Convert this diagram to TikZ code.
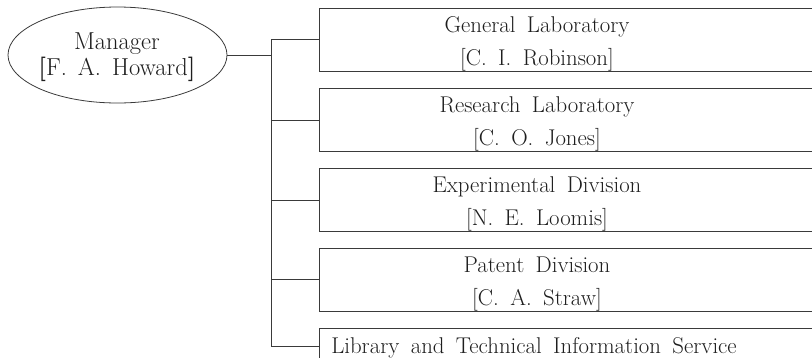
\documentclass[tikz,border=0pt]{standalone}
\usetikzlibrary{shapes.geometric}
\definecolor{linec}{HTML}{3A3A3A}
\definecolor{textc}{HTML}{1E1E1E}
\newcommand\myboxfont{\fontsize{22.8}{27}\selectfont\spaceskip=0.5em plus 0.1em minus 0.1em\relax}
\newcommand\mybossfont{\fontsize{24.5}{29}\selectfont\spaceskip=0.45em plus 0.1em minus 0.1em\relax}
\begin{document}
\begin{tikzpicture}[x=1pt,y=-1pt,
  unitbox/.style={draw=linec, line width=0.8pt, rectangle, anchor=north west,
    minimum width=540pt, minimum height=63pt, inner sep=0pt},
  boss/.style={draw=linec, line width=0.8pt, ellipse, minimum width=219pt,
    minimum height=96pt, inner sep=0pt},
  txt/.style={anchor=base, inner sep=0pt, text=textc, font=\myboxfont},
  bosstxt/.style={anchor=base, inner sep=0pt, text=textc, font=\mybossfont},
  conn/.style={draw=linec, line width=0.8pt}]
\useasboundingbox (0,0) rectangle (812,357);

\node[boss] (m) at (117.5,55) {};
\node[bosstxt] (m1) at (117,49) {Manager};
\node[bosstxt] (m2) at (117,75) {\textbf{[}F. A. Howard\textbf{]}};

\node[unitbox] (b1) at (319,8) {};
\node[unitbox] (b2) at (319,88) {};
\node[unitbox] (b3) at (319,168) {};
\node[unitbox] (b4) at (319,248) {};
\node[unitbox] (b5) at (319,328) {};

\node[txt] (b1a) at (537,32) {General Laboratory};
\node[txt] (b1b) at (537,65) {[C. I. Robinson]};
\node[txt] (b2a) at (537,112) {Research Laboratory};
\node[txt] (b2b) at (537,145) {[C. O. Jones]};
\node[txt] (b3a) at (537,192) {Experimental Division};
\node[txt] (b3b) at (537,225) {[N. E. Loomis]};
\node[txt] (b4a) at (537,272) {Patent Division};
\node[txt] (b4b) at (537,305) {[C. A. Straw]};
\node[txt] (b5a) at (534,353) {Library and Technical Information Service};

\coordinate (j0) at (271,55);
\coordinate (j1) at (271,39);
\coordinate (j2) at (271,120);
\coordinate (j3) at (271,200);
\coordinate (j4) at (271,279);
\coordinate (j5) at (271,346);

\draw[conn] (m.east) -- (j0);
\draw[conn] (j1) -- (j5);
\draw[conn] (j1) -- (j1 -| b1.west);
\draw[conn] (j2) -- (j2 -| b2.west);
\draw[conn] (j3) -- (j3 -| b3.west);
\draw[conn] (j4) -- (j4 -| b4.west);
\draw[conn] (j5) -- (j5 -| b5.west);
\end{tikzpicture}
\end{document}
